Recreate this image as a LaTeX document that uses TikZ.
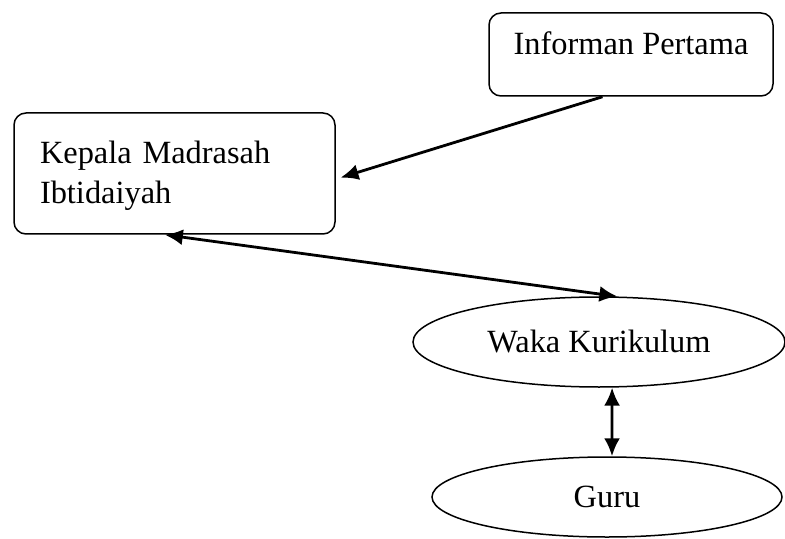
\documentclass[tikz,border=0pt]{standalone}
\usepackage{fontspec}
\setmainfont{Liberation Serif}
\usetikzlibrary{shapes.geometric,arrows.meta}
\tikzstyle{txt} = [font={\fontsize{16.2pt}{20pt}\selectfont}]
\tikzstyle{box} = [draw=black, line width=0.75pt, rounded corners=6pt, inner sep=0pt, txt]
\tikzstyle{oval} = [draw=black, line width=0.75pt, ellipse, inner sep=0pt, txt]
\tikzstyle{link} = [line width=1.4pt, -{Latex[length=9pt,width=8pt]}]
\tikzstyle{both} = [link, {Latex[length=9pt,width=8pt]}-{Latex[length=9pt,width=8pt]}]

\begin{document}
\begin{tikzpicture}[x={(0.5pt,0)}, y={(0,-0.5pt)}]
        \useasboundingbox (0,0) rectangle (785,539);
        \node[box, minimum width=142pt, text height=21pt, text depth=20.5pt](inf) at (631,54.5){Informan Pertama};
        \node[box, inner xsep=13pt, text width=134.5pt, align=left, text height=25.5pt, text depth=35pt](kepala) at (174.5,173.5){Kepala Madrasah\\Ibtidaiyah};
        \node[oval, minimum width=186pt, minimum height=45pt](waka) at (599,342){Waka Kurikulum};
        \node[oval, minimum width=175pt, minimum height=40pt](guru) at (607,497){Guru};
        \draw[link, shorten >=2.5pt](inf.236)--(kepala.-2.2);
        \draw[both](kepala.261)--(waka.68);
        \draw[both](waka.286)--(guru.83);
      \end{tikzpicture}
\end{document}
